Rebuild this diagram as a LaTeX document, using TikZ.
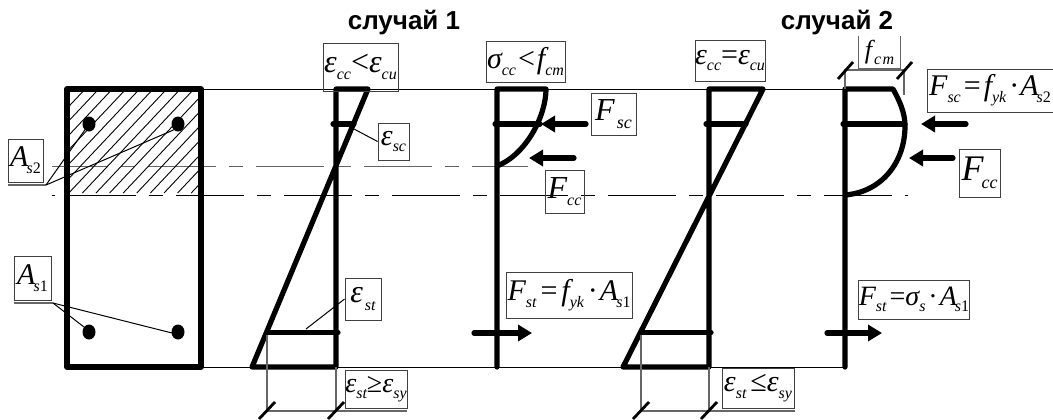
\documentclass[tikz,border=0pt]{standalone}
\usepackage{fontspec}
\setmainfont{Liberation Serif}
\newfontfamily\titlefont{Liberation Sans}
\usetikzlibrary{arrows.meta}
\newcommand{\lsub}[1]{\raisebox{-.5ex}{\fontsize{9}{9}\selectfont\itshape #1}}
\newcommand{\tsub}[1]{\raisebox{-.5ex}{\fontsize{8}{8}\selectfont\itshape #1}}
\tikzset{
  lbl/.style 2 args={draw=black!75,line width=.45pt,inner sep=0pt,minimum width=#1*.5pt,minimum height=#2*.5pt,font=\fontsize{14}{14}\selectfont\itshape},
  title/.style={font=\titlefont\bfseries\fontsize{13}{13}\selectfont,inner sep=0pt},
  thick line/.style={line width=2.6pt,line cap=round,line join=round},
  thin line/.style={line width=.5pt},
  dim line/.style={line width=.55pt,black!60},
  tick/.style={line width=1.4pt},
  force/.style={line width=2.6pt,line cap=round,-{Triangle[length=7pt,width=8pt]}}
}
\begin{document}
\begin{tikzpicture}[x=.5pt,y=-.5pt]
\useasboundingbox (0,0) rectangle (1053,419);
% titles
\node[title] (case1) at (404,23) {случай 1};
\node[title] (case2) at (837,23) {случай 2};
% reference lines
\draw[thin line] (201,89) -- (845,89);
\draw[thin line] (201,367) -- (845,367);
\draw[line width=.7pt,black!60,dash pattern=on 34pt off 6.5pt on 7pt off 6.5pt,dash phase=6pt] (52,166.5) -- (528,166.5);
\draw[thin line,dash pattern=on 34pt off 6.5pt on 7pt off 6.5pt,dash phase=46pt] (52,195) -- (908,195);
% hatching
\begin{scope}
\clip (67,89) rectangle (201,195);
\foreach \i in {-40,-26.4,...,200} \draw[line width=.45pt] (\i,193) -- (\i+98,89);
\end{scope}
% section
\draw[thick line] (67,89) rectangle (201,367);
\fill (89,124) ellipse (6.5 and 7.5);
\fill (178,124) ellipse (6.5 and 7.5);
\fill (89,332) ellipse (6.5 and 7.5);
\fill (178,332) ellipse (6.5 and 7.5);
\coordinate (barA) at (89,124);
\coordinate (barB) at (178,128);
\coordinate (barC) at (84,327);
\coordinate (barD) at (172,333);
% strain diagram 1
\draw[thick line] (336,367) -- (336,89) -- (368,89) -- (252,367) -- cycle;
\draw[thick line] (333,124) -- (354,124);
\draw[thick line] (267,332.5) -- (338,332.5);
\draw[dim line] (267,335) -- (267,411) -- (407,411);
\draw[dim line] (336,367) -- (336,411);
\draw[tick] (275,402) -- (259,419);
\draw[tick] (344,402) -- (328,419);
% stress diagram 1
\draw[thick line] (497,367) -- (497,89) -- (546,89) .. controls (546,115) and (527,154) .. (497,166);
\draw[thick line] (495,124) -- (540,124);
\coordinate (fscA) at (586,124);
\coordinate (fscB) at (541,124);
\coordinate (fccA) at (574,158);
\coordinate (fccB) at (529,158);
\coordinate (fstA) at (474,333);
\coordinate (fstB) at (532,333);
\draw[force] (fscA) -- (fscB);
\draw[force] (fccA) -- (fccB);
\draw[force] (fstA) -- (fstB);
% strain diagram 2
\draw[thick line] (709,367) -- (709,89) -- (763,89) -- (623,367) -- cycle;
\draw[thick line] (706,124) -- (746,124);
\draw[thick line] (641,332.5) -- (711,332.5);
\draw[dim line] (641,335) -- (641,411) -- (795,411);
\draw[dim line] (709,367) -- (709,411);
\draw[tick] (649,402) -- (633,419);
\draw[tick] (717,402) -- (701,419);
% stress diagram 2
\draw[thick line] (845,367) -- (845,89) -- (893,89) .. controls (899,100) and (905,112) .. (905,126) .. controls (905,162) and (882,192) .. (845,195);
\draw[thick line] (843,124) -- (905,124);
\draw[dim line] (845,89) -- (845,70) -- (904,70) -- (904,95);
\draw[tick] (838,79) -- (853,62);
\draw[tick] (897,79) -- (912,62);
\coordinate (fscC) at (966,124);
\coordinate (fscD) at (921,124);
\coordinate (fccC) at (953,158);
\coordinate (fccD) at (909,158);
\coordinate (fstC) at (827,333);
\coordinate (fstD) at (882,333);
\draw[force] (fscC) -- (fscD);
\draw[force] (fccC) -- (fccD);
\draw[force] (fstC) -- (fstD);
% labels
\node[lbl={35}{43}] (as2) at (25.5,160.5) {\fontsize{15}{15}\selectfont A\kern-1pt\tsub{s{\upshape 2}}};
\node[lbl={37}{44}] (as1) at (32.5,278) {\fontsize{15}{15}\selectfont A\kern-1pt\tsub{s{\upshape 1}}};
\node[lbl={75}{48}] (ecu) at (360.5,67) {\fontsize{16}{16}\selectfont ε\tsub{cc}{\upshape <}ε\tsub{cu}};
\node[lbl={31}{37}] (esc) at (393.5,141.5) {\fontsize{15}{15}\selectfont ε\tsub{sc}};
\node[lbl={36}{42}] (est) at (363,299) {\fontsize{16}{16}\selectfont ε\kern1pt\tsub{st}};
\node[lbl={62}{38}] (esy) at (376,389) {\fontsize{14}{14}\selectfont ε\tsub{st}{\upshape ≥}ε\tsub{sy}};
\node[lbl={79}{41}] (scc) at (525.5,61.5) {\fontsize{15}{15}\selectfont σ\tsub{cc}\kern1pt{\upshape <}\kern1pt f\tsub{cm}};
\node[lbl={45}{42}] (fsc) at (613.5,114) {\fontsize{16}{16}\selectfont F\kern1pt\lsub{sc}};
\node[lbl={39}{43}] (fcc) at (564.5,191.5) {\fontsize{16}{16}\selectfont F\tsub{cc}};
\node[lbl={126}{46}] (fst) at (569,295) {\fontsize{15}{15}\selectfont F\tsub{st}\kern2pt{\upshape =}\kern2pt f\tsub{yk}\kern2pt{\upshape ·}\kern1pt A\kern-1pt\tsub{s{\upshape 1}}};
\node[lbl={70}{41}] (ecc) at (730,60.5) {\fontsize{15}{15}\selectfont ε\tsub{cc}{\upshape =}ε\tsub{cu}};
\node[lbl={72}{40}] (esz) at (758,388) {\fontsize{15}{15}\selectfont ε\tsub{st}\kern2pt{\upshape ≤}ε\tsub{sy}};
\node[lbl={41}{32},draw=none] (fcm) at (879.5,52) {\fontsize{13}{13}\selectfont f\kern1pt\tsub{c\kern.8pt m}};
\draw[dim line] (fcm.north west) -- (fcm.south west) -- (fcm.south east) -- (fcm.north east);
\node[lbl={126}{43}] (fse) at (990,90.5) {\fontsize{15}{15}\selectfont F\tsub{sc}\kern1.5pt{\upshape =}\kern1.5pt f\tsub{yk}\kern1.5pt{\upshape ·}\kern.5pt A\kern-1pt\tsub{s{\upshape 2}}};
\node[lbl={41}{48}] (fct) at (979.5,173) {\fontsize{18}{18}\selectfont F\kern-1pt\lsub{cc}};
\node[lbl={106}{39}] (fss) at (914,299.5) {\fontsize{14}{14}\selectfont F\tsub{st}\kern1.5pt{\upshape =}σ\tsub{s}\kern1.5pt{\upshape ·}\kern1pt A\kern-1pt\tsub{s{\upshape 1}}};
% underlines and leaders
\coordinate (as2u) at (46,185);
\coordinate (as2v) at (8,185);
\coordinate (as1u) at (53,303);
\coordinate (as1v) at (14,303);
\coordinate (escA) at (354,129);
\coordinate (estA) at (306,329);
\draw[dim line] (as2v) -- (as2u);
\draw[dim line] (as1v) -- (as1u);
\draw[thin line] (as2u) -- (barA);
\draw[thin line] (as2u) -- (barB);
\draw[thin line] (as1u) -- (barC);
\draw[thin line] (as1u) -- (barD);
\draw[thin line] (escA) -- (esc.west);
\draw[thin line] (estA) -- (est.west);
\end{tikzpicture}
\end{document}
